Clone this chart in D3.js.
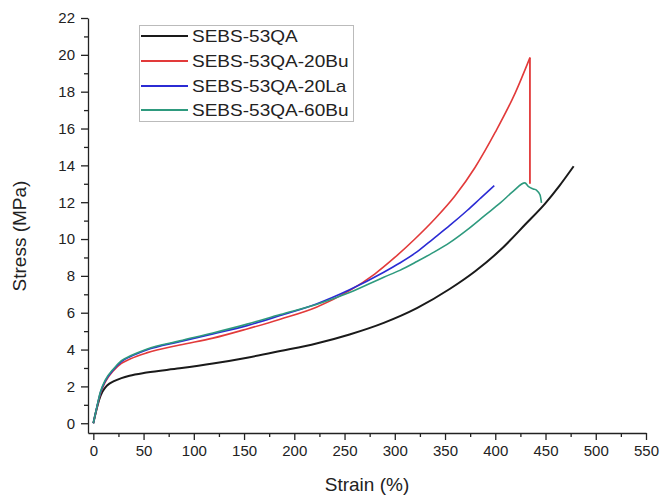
<!DOCTYPE html>
<html>
<head>
<meta charset="utf-8">
<script src="https://cdn.jsdelivr.net/npm/d3@7"></script>
<style>
html,body{margin:0;padding:0;background:#fff;}
svg{display:block;}
text{font-family:"Liberation Sans",Arial,sans-serif;fill:#222;}
</style>
</head>
<body>
<svg id="chart" width="662" height="498"></svg>
<script>
// ---- data (strain %, stress MPa) ----
const seriesNames = ["SEBS-53QA","SEBS-53QA-20Bu","SEBS-53QA-20La","SEBS-53QA-60Bu"];
const seriesColors = ["#1a1a1a","#e23a3a","#2b2bd4","#2e9a7e"];

const sebs53QA = [[0,0],[3,0.7],[6,1.3],[9,1.7],[12,1.95],[16,2.15],[20,2.27],[28,2.45],[36,2.58],[53,2.75],[86,2.98],[119,3.24],[153,3.56],[186,3.92],[222,4.33],[255,4.82],[289,5.45],[322,6.25],[355,7.3],[380,8.25],[405,9.4],[430,10.8],[450,11.95],[464,12.9],[478,13.95]];
const sebs20Bu = [[0,0],[3,0.7],[7,1.6],[12,2.25],[20,2.85],[28,3.25],[37,3.5],[53,3.82],[86,4.25],[119,4.62],[153,5.12],[186,5.65],[222,6.3],[255,7.2],[280,8.1],[300,9.0],[320,10.0],[340,11.1],[360,12.35],[380,13.9],[400,15.8],[420,17.95],[434.5,19.85]];
const sebs20BuBreak = [[434.5,19.85],[434.5,13.0]];
const sebs20La = [[0,0],[3,0.75],[7,1.65],[12,2.3],[20,2.9],[28,3.35],[37,3.62],[53,3.98],[86,4.43],[119,4.85],[153,5.3],[186,5.85],[222,6.48],[255,7.25],[289,8.2],[305,8.7],[322,9.3],[338,10.0],[355,10.75],[372,11.55],[385,12.2],[399,12.9]];
const sebs60Bu = [[0,0],[3,0.75],[7,1.7],[12,2.35],[20,2.95],[28,3.4],[37,3.66],[53,4.02],[86,4.47],[119,4.9],[153,5.38],[186,5.9],[222,6.45],[255,7.1],[289,7.93],[305,8.3],[322,8.78],[338,9.26],[355,9.82],[372,10.5],[390,11.3],[405,11.96],[418,12.6],[429.5,13.05],[432.8,12.86],[437.8,12.72],[441,12.65],[444.5,12.4],[446,11.96]];
const seriesData = [sebs53QA, sebs20Bu, sebs20La, sebs60Bu];

const xTicks = [0,50,100,150,200,250,300,350,400,450,500,550];
const yTicks = [0,2,4,6,8,10,12,14,16,18,20,22];

// ---- chart ----
const svg = d3.select("#chart");
const x = d3.scaleLinear().domain([-5.3,550]).range([88,646]);
const y = d3.scaleLinear().domain([-0.53,22]).range([433,18]);

const xMinor = d3.range(25,550,50);
const yMinor = d3.range(1,22,2);

// x axis
const gx = svg.append("g").attr("transform","translate(0,433)");
gx.append("g").call(d3.axisBottom(x).tickValues(xMinor).tickSize(4).tickFormat(""))
  .call(g=>g.select(".domain").remove());
gx.append("g").call(d3.axisBottom(x).tickValues(xTicks).tickSize(7).tickSizeOuter(0).tickPadding(5))
  .call(g=>g.selectAll("text").attr("font-size",15).attr("font-family","Liberation Sans, Arial, sans-serif").attr("fill","#222"));
gx.selectAll("line,path").attr("stroke","#222").attr("stroke-width",1.3);

// y axis
const gy = svg.append("g").attr("transform","translate(88,0)");
gy.append("g").call(d3.axisLeft(y).tickValues(yMinor).tickSize(4).tickFormat(""))
  .call(g=>g.select(".domain").remove());
gy.append("g").call(d3.axisLeft(y).tickValues(yTicks).tickSize(7).tickSizeOuter(0).tickPadding(6))
  .call(g=>g.selectAll("text").attr("font-size",15).attr("font-family","Liberation Sans, Arial, sans-serif").attr("fill","#222"));
gy.selectAll("line,path").attr("stroke","#222").attr("stroke-width",1.3);

// axis titles
svg.append("text").attr("x",367).attr("y",491).attr("text-anchor","middle")
  .attr("font-size",19).text("Strain (%)");
svg.append("text").attr("transform","translate(26,236) rotate(-90)").attr("text-anchor","middle")
  .attr("font-size",19).text("Stress (MPa)");

// lines
const line = d3.line().x(d=>x(d[0])).y(d=>y(d[1])).curve(d3.curveMonotoneX);
const straight = d3.line().x(d=>x(d[0])).y(d=>y(d[1]));
const gl = svg.append("g");
gl.selectAll("path.series").data(seriesData).join("path").attr("class","series")
  .attr("d",line).attr("fill","none")
  .attr("stroke",(d,i)=>seriesColors[i])
  .attr("stroke-width",(d,i)=>i===0?2:1.6)
  .attr("stroke-linejoin","round");
gl.append("path").datum(sebs20BuBreak).attr("d",straight).attr("fill","none")
  .attr("stroke",seriesColors[1]).attr("stroke-width",1.8);

// legend
const lg = svg.append("g");
lg.append("rect").attr("x",139.5).attr("y",25.5).attr("width",214).attr("height",96)
  .attr("fill","#fff").attr("stroke","#bbb").attr("stroke-width",1);
const rowsY = [36,61,86,110];
seriesNames.forEach((n,i)=>{
  lg.append("line").attr("x1",141).attr("x2",188).attr("y1",rowsY[i]).attr("y2",rowsY[i])
    .attr("stroke",seriesColors[i]).attr("stroke-width",2);
  lg.append("text").attr("transform",`translate(192,${rowsY[i]}) scale(1.12,1)`).attr("dy","0.36em")
    .attr("font-size",17).text(n);
});
</script>
</body>
</html>
